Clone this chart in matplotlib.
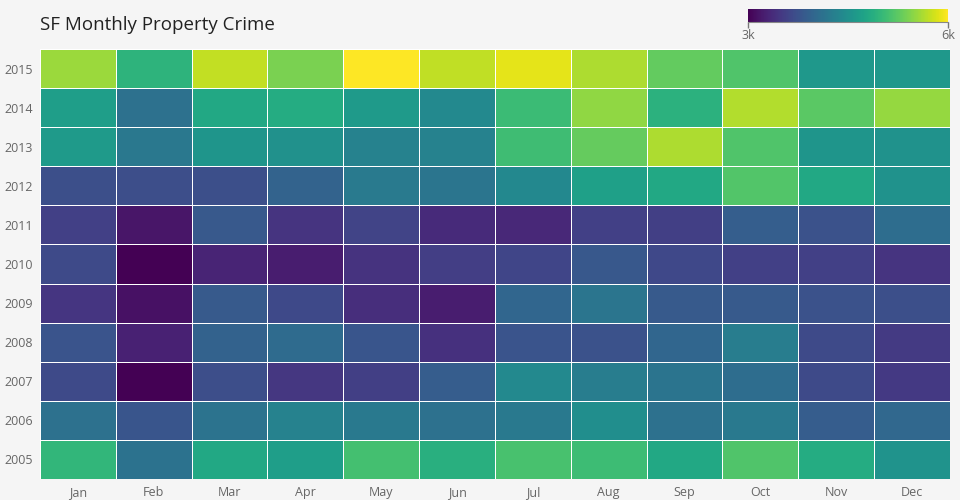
import numpy as np
import matplotlib.pyplot as plt

plt.rcParams['font.family'] = ['Open Sans', 'DejaVu Sans']

months = ['Jan', 'Feb', 'Mar', 'Apr', 'May', 'Jun', 'Jul', 'Aug', 'Sep', 'Oct', 'Nov', 'Dec']
years = [2005, 2006, 2007, 2008, 2009, 2010, 2011, 2012, 2013, 2014, 2015]

# monthly property crime counts, one row per year (2005 first)
crime = np.array([
    [4980, 4125, 4800, 4665, 5100, 4890, 5130, 5055, 4800, 5175, 4845, 4545],  # 2005
    [4110, 3795, 4140, 4320, 4215, 4110, 4215, 4470, 4110, 4215, 3870, 4005],  # 2006
    [3675, 3000, 3705, 3480, 3555, 3870, 4410, 4260, 4155, 4065, 3675, 3495],  # 2007
    [3780, 3270, 3930, 4035, 3795, 3420, 3780, 3750, 3975, 4260, 3675, 3510],  # 2008
    [3465, 3135, 3840, 3660, 3390, 3240, 3975, 4170, 3840, 3840, 3750, 3720],  # 2009
    [3675, 3000, 3300, 3240, 3435, 3540, 3615, 3810, 3645, 3570, 3570, 3450],  # 2010
    [3570, 3165, 3825, 3450, 3600, 3360, 3330, 3570, 3555, 3885, 3750, 4065],  # 2011
    [3720, 3705, 3720, 3945, 4230, 4170, 4395, 4695, 4800, 5190, 4800, 4530],  # 2012
    [4620, 4200, 4560, 4500, 4320, 4335, 5070, 5295, 5625, 5175, 4560, 4530],  # 2013
    [4665, 4110, 4800, 4845, 4620, 4410, 5040, 5505, 4920, 5655, 5235, 5520],  # 2014
    [5550, 4935, 5730, 5400, 6000, 5715, 5880, 5625, 5280, 5175, 4605, 4605],  # 2015
])

bg = '#f5f5f5'
fig = plt.figure(figsize=(9.6, 5), dpi=100, facecolor=bg)
ax = fig.add_axes([40/960, 21/500, 910/960, 430/500])
ax.set_facecolor(bg)

mesh = ax.pcolormesh(crime, cmap='viridis', vmin=3000, vmax=6000,
                     edgecolors='white', linewidth=0.6)
ax.set_xticks(np.arange(len(months)) + 0.5)
ax.set_xticklabels(months)
ax.set_yticks(np.arange(len(years)) + 0.5)
ax.set_yticklabels([str(y) for y in years])
ax.tick_params(length=0, labelsize=9, labelcolor='#666666', pad=5)
for s in ax.spines.values():
    s.set_visible(False)

fig.text(40/960, 1 - 25/500, 'SF Monthly Property Crime', fontsize=13.5,
         color='#222222', va='center', ha='left')

# colorbar on top right
cax = fig.add_axes([748/960, 1 - 22/500, 200/960, 13/500])
cb = fig.colorbar(mesh, cax=cax, orientation='horizontal')
cb.outline.set_visible(False)
cb.set_ticks([3000, 6000])
cb.set_ticklabels(['3k', '6k'])
cax.tick_params(length=4, width=1, color='#777777', labelsize=9,
                labelcolor='#666666', pad=1)
cax.spines['bottom'].set_visible(True)
cax.spines['bottom'].set_color('#888888')

fig.savefig('out.png', dpi=100, facecolor=bg)
